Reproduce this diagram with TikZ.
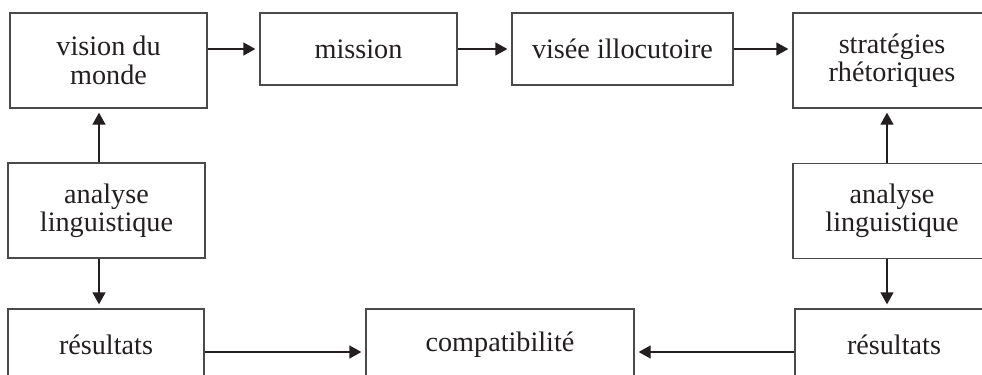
\documentclass[tikz,border=0pt]{standalone}
\usepackage{fontspec}
\setmainfont{Liberation Serif}
\usetikzlibrary{arrows.meta}
\definecolor{ink}{HTML}{231F20}
\definecolor{edge}{HTML}{4A4A4A}
\begin{document}
\begin{tikzpicture}[x=0.5pt,y=-0.5pt,
  box/.style={draw=edge, line width=0.65pt, rectangle, align=center, inner sep=0pt,
    text=ink, font=\fontsize{14.1}{14.2}\selectfont},
  tall/.style={minimum height=47.5pt},
  short/.style={minimum height=36pt},
  conn/.style={draw=ink, line width=0.65pt, -{Triangle[length=6pt,width=6.5pt]}, shorten >=2pt}]
\useasboundingbox (0,0) rectangle (982,375);
\clip (0,0) rectangle (982,375);
% top row
\node[box,tall,minimum width=98.5pt] (vision) at (108.5,60.5) {vision du\\monde};
\node[box,short,minimum width=98.5pt] (mission) at (358.5,49) {mission};
\node[box,short,minimum width=110.5pt] (visee) at (622.5,49) {visée illocutoire};
\node[box,tall,minimum width=99pt] (strat) at (892,60.5) {stratégies\\rhétoriques};
% middle row
\node[box,tall,minimum width=98.5pt] (anaL) at (106.5,210.5) {analyse\\linguistique};
\node[box,tall,minimum width=99pt] (anaR) at (892,211) {analyse\\linguistique};
% bottom row
\node[box,short,minimum width=98pt] (resL) at (106,345) {résultats};
\node[box,short,minimum width=134pt] (compat) at (500,345) {compatibilité};
\node[box,short,minimum width=99pt] (resR) at (894,345) {résultats};
% helper coordinates
\coordinate (cl) at (99,0);
\coordinate (cr) at (887,0);
\coordinate (yb) at (0,352);
% connectors
\draw[conn] (mission.west -| vision.east) -- (mission.west);
\draw[conn] (mission.east) -- (visee.west);
\draw[conn] (visee.east) -- (visee.east -| strat.west);
\draw[conn] (cl |- anaL.north) -- (cl |- vision.south);
\draw[conn] (cl |- anaL.south) -- (cl |- resL.north);
\draw[conn] (cr |- anaR.north) -- (cr |- strat.south);
\draw[conn] (cr |- anaR.south) -- (cr |- resR.north);
\draw[conn] (yb -| resL.east) -- (yb -| compat.west);
\draw[conn] (yb -| resR.west) -- (yb -| compat.east);
\end{tikzpicture}
\end{document}
